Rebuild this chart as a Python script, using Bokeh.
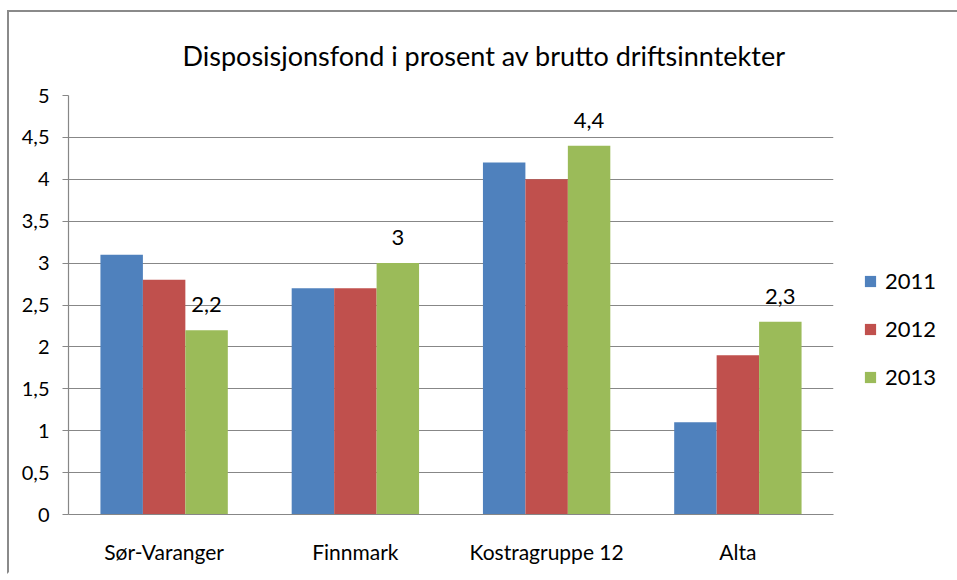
from bokeh.plotting import figure
from bokeh.models import (ColumnDataSource, FactorRange, Range1d, FixedTicker,
                          CustomJSTickFormatter, Legend, LegendItem, LabelSet)
from bokeh.core.properties import value
from bokeh.transform import dodge
from bokeh.embed import file_html
from bokeh.resources import INLINE

# ---- data ----
categories = ["Sør-Varanger", "Finnmark", "Kostragruppe 12", "Alta"]
years = ["2011", "2012", "2013"]
v2011 = [3.1, 2.7, 4.2, 1.1]
v2012 = [2.8, 2.7, 4.0, 1.9]
v2013 = [2.2, 3.0, 4.4, 2.3]
y_ticks = [0, 0.5, 1, 1.5, 2, 2.5, 3, 3.5, 4, 4.5, 5]
title_text = "Disposisjonsfond i prosent av brutto driftsinntekter"


def fmt(v):
    s = ("%g" % v)
    return s.replace(".", ",")


src = ColumnDataSource(dict(
    cat=categories, y2011=v2011, y2012=v2012, y2013=v2013,
    lab2013=[fmt(v) for v in v2013],
))

FONT = "Lato"
colors = ["#4F81BD", "#C0504D", "#9BBB59"]

p = figure(frame_width=765, frame_height=419,
           x_range=FactorRange(*categories, range_padding=0),
           y_range=Range1d(0, 5), output_backend="svg", toolbar_location=None,
           min_border_left=59, min_border_right=118, min_border_top=82,
           min_border_bottom=58)
p.styles = {"border-top": "2px solid #8a8a8a", "border-left": "2px solid #8a8a8a",
            "border-right": "2px solid #8a8a8a", "border-bottom": "2px solid white",
            "margin": "10px 0 0 7px"}

p.title.text = title_text
p.title.text_font = FONT
p.title.text_font_size = "27px"
p.title.text_font_style = "normal"
p.title.align = "left"
p.title.offset = 114
p.title.standoff = 48
p.title.text_color = "black"

p.outline_line_color = None
p.background_fill_color = "white"
p.border_fill_color = "white"

# grid
p.xgrid.grid_line_color = None
p.ygrid.grid_line_color = "#878787"
p.ygrid.grid_line_width = 1.2

# axes
p.yaxis.ticker = FixedTicker(ticks=y_ticks)
p.yaxis.formatter = CustomJSTickFormatter(code="return tick.toString().replace('.', ',');")
p.yaxis.major_label_text_font = FONT
p.yaxis.major_label_text_font_size = "20px"
p.yaxis.major_label_text_color = "black"
p.yaxis.axis_line_color = "#878787"
p.yaxis.axis_line_width = 1.2
p.yaxis.major_tick_line_color = "#878787"
p.yaxis.major_tick_in = 0
p.yaxis.major_tick_out = 6
p.yaxis.minor_tick_line_color = None
p.yaxis.major_label_standoff = 13

p.xaxis.major_label_text_font = FONT
p.xaxis.major_label_text_font_size = "21px"
p.xaxis.major_label_text_color = "black"
p.xaxis.axis_line_color = "#878787"
p.xaxis.axis_line_width = 1.2
p.xaxis.major_tick_line_color = None
p.xaxis.major_label_standoff = 18

renderers = []
for i, (yr, col) in enumerate(zip(years, colors)):
    r = p.vbar(x=dodge("cat", (i - 1) * 0.222, range=p.x_range), top="y" + yr,
               width=0.222, source=src, fill_color=col, line_color=None)
    renderers.append(r)

labels = LabelSet(x=dodge("cat", 0.222, range=p.x_range), y="y2013", text="lab2013",
                  source=src, text_align="center", text_baseline="bottom",
                  y_offset=18, text_font=value(FONT), text_font_size="22px",
                  text_color="black")
p.add_layout(labels)

legend = Legend(items=[LegendItem(label=yr, renderers=[r]) for yr, r in zip(years, renderers)],
                location=(30, 124), orientation="vertical",
                label_text_font=FONT, label_text_font_size="22px", label_text_color="black",
                glyph_width=14, glyph_height=14, spacing=21, label_standoff=8,
                border_line_color=None, background_fill_alpha=0, margin=0, padding=5)
p.add_layout(legend, "right")

open("out.html", "w").write(file_html(p, INLINE))
